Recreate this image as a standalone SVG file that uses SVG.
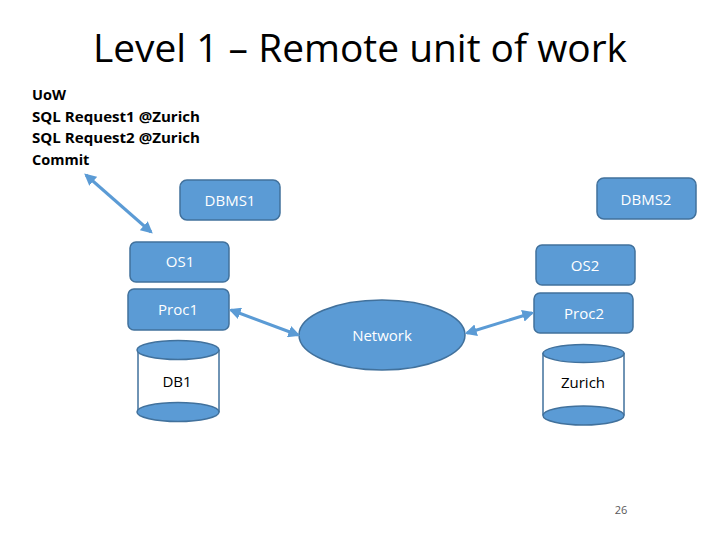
<svg xmlns="http://www.w3.org/2000/svg" width="720" height="540" viewBox="0 0 720 540">
<style>
.box{fill:#5b9bd5;stroke:#41719c;stroke-width:1.5}
.lbl{font-family:"Open Sans","Liberation Sans",sans-serif;font-size:15px;fill:#ffffff;text-anchor:middle}
.dark{font-family:"Open Sans","Liberation Sans",sans-serif;font-size:15px;fill:#000000;text-anchor:middle}
.side{fill:#ffffff;stroke:#41719c;stroke-width:1}
.conn{stroke:#5b9bd5;stroke-width:3;fill:none;marker-start:url(#ah);marker-end:url(#ah)}
.uow{font-family:"Open Sans","Liberation Sans",sans-serif;font-size:14.5px;font-weight:bold;fill:#000000}
</style>
<defs>
<marker id="ah" viewBox="0 0 10 10" refX="8" refY="5" markerWidth="4" markerHeight="4" orient="auto-start-reverse" markerUnits="strokeWidth">
<path d="M0,0 L10,5 L0,10 z" fill="#5b9bd5"/>
</marker>
</defs>
<rect width="720" height="540" fill="#ffffff"/>
<text x="360" y="62" font-family="Open Sans, Liberation Sans, sans-serif" font-size="38" fill="#000000" text-anchor="middle" textLength="534" lengthAdjust="spacingAndGlyphs">Level 1 – Remote unit of work</text>
<g id="uow">
<text class="uow" x="32" y="100">UoW</text>
<text class="uow" x="32" y="122" textLength="168" lengthAdjust="spacingAndGlyphs">SQL Request1 @Zurich</text>
<text class="uow" x="32" y="143" textLength="168" lengthAdjust="spacingAndGlyphs">SQL Request2 @Zurich</text>
<text class="uow" x="32" y="165">Commit</text>
</g>
<g id="dbms1"><rect class="box" x="180" y="180" width="100" height="40" rx="7"/><text class="lbl" x="230" y="206">DBMS1</text></g>
<g id="dbms2"><rect class="box" x="597" y="178" width="99" height="41" rx="7"/><text class="lbl" x="646" y="205">DBMS2</text></g>
<g id="os1"><rect class="box" x="130" y="242" width="99" height="40" rx="6"/><text class="lbl" x="180" y="267">OS1</text></g>
<g id="proc1"><rect class="box" x="128" y="289" width="101" height="41" rx="6"/><text class="lbl" x="178" y="315">Proc1</text></g>
<g id="os2"><rect class="box" x="536" y="245" width="99" height="40" rx="6"/><text class="lbl" x="585" y="271">OS2</text></g>
<g id="proc2"><rect class="box" x="534" y="293" width="99" height="40" rx="6"/><text class="lbl" x="584" y="319">Proc2</text></g>
<g id="network"><ellipse class="box" cx="382" cy="335" rx="83" ry="35"/><text class="lbl" x="382" y="341">Network</text></g>
<g id="db1">
<rect class="side" x="138" y="350" width="81" height="62" stroke="none"/>
<line x1="138" y1="350" x2="138" y2="412" stroke="#41719c"/>
<line x1="219" y1="350" x2="219" y2="412" stroke="#41719c"/>
<ellipse class="box" cx="178" cy="412" rx="41" ry="9.5"/>
<ellipse class="box" cx="178" cy="350" rx="41" ry="9.5"/>
<text class="dark" x="177" y="387">DB1</text>
</g>
<g id="zurich">
<rect class="side" x="543" y="353" width="81" height="62" stroke="none"/>
<line x1="543" y1="353" x2="543" y2="415" stroke="#41719c"/>
<line x1="624" y1="353" x2="624" y2="415" stroke="#41719c"/>
<ellipse class="box" cx="583.5" cy="415.5" rx="40.5" ry="9.5"/>
<ellipse class="box" cx="583.5" cy="353.5" rx="40.5" ry="9"/>
<text class="dark" x="583" y="388">Zurich</text>
</g>
<g id="connectors">
<line class="conn" x1="86" y1="175" x2="151" y2="232"/>
<line class="conn" x1="231" y1="310" x2="298" y2="335"/>
<line class="conn" x1="467" y1="333" x2="532" y2="313"/>
</g>
<text x="621" y="514" font-family="Open Sans, Liberation Sans, sans-serif" font-size="11" fill="#595959" text-anchor="middle">26</text>
</svg>
